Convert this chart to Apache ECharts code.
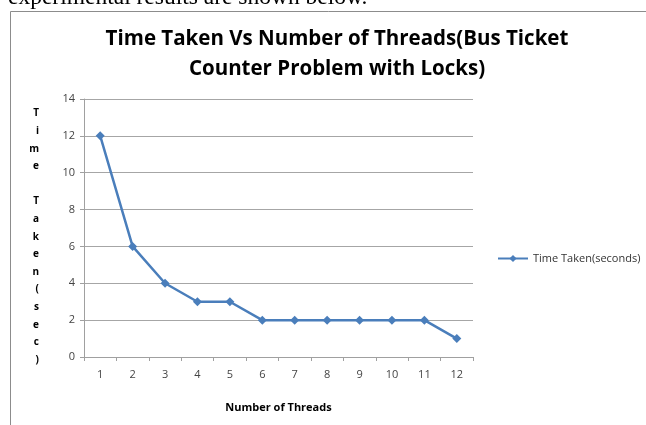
<!DOCTYPE html>
<html>
<head>
<meta charset="utf-8">
<style>html,body{margin:0;padding:0;background:#fff;}#c{width:646px;height:425px;}</style>
<script src="https://cdn.jsdelivr.net/npm/echarts@6/dist/echarts.min.js"></script>
</head>
<body>
<div id="c"></div>
<script>
const categories = ['1','2','3','4','5','6','7','8','9','10','11','12'];
const timeTaken = [12, 6, 4, 3, 3, 2, 2, 2, 2, 2, 2, 1];
const seriesName = 'Time Taken(seconds)';
const titleText = 'Time Taken Vs Number of Threads(Bus Ticket\nCounter Problem with Locks)';
const yName = '\nT\ni\nm\ne\n\nT\na\nk\ne\nn\n(\ns\ne\nc\n)';
const xName = 'Number of Threads';
const captionText = 'experimental results are shown below.';

const chart = echarts.init(document.getElementById('c'), null, {renderer: 'canvas'});
chart.setOption({
  backgroundColor: '#fff',
  animation: false,
  graphic: [
    {type: 'rect', shape: {x: 10.5, y: 11.5, width: 700, height: 500}, style: {fill: 'none', stroke: '#8c8c8c', lineWidth: 1}},
    {type: 'text', x: 8, y: -14, style: {text: captionText, font: '23.5px "Liberation Serif"', fill: '#000'}}
  ],
  title: {
    text: titleText,
    left: 332, top: 19, textAlign: 'center',
    textStyle: {fontFamily: 'Open Sans', fontWeight: 'bold', fontSize: 20.5, color: '#000', lineHeight: 30}
  },
  legend: {
    data: [seriesName],
    left: 492, top: 248,
    itemWidth: 30, itemHeight: 9,
    textStyle: {fontFamily: 'Open Sans', fontSize: 11, color: '#333'}
  },
  grid: {left: 84, right: 173, top: 99, bottom: 68},
  xAxis: {
    type: 'category', data: categories, boundaryGap: true,
    name: xName, nameLocation: 'middle', nameGap: 45,
    nameTextStyle: {fontFamily: 'Open Sans', fontWeight: 'bold', fontSize: 11, color: '#000'},
    axisLine: {lineStyle: {color: '#a0a0a0'}},
    axisTick: {show: true, alignWithLabel: false, length: 4, lineStyle: {color: '#a0a0a0'}},
    axisLabel: {fontFamily: 'Open Sans', fontSize: 11, color: '#444', margin: 12}
  },
  yAxis: {
    type: 'value', min: 0, max: 14, interval: 2,
    name: yName, nameLocation: 'middle', nameGap: 45, nameRotate: 0,
    nameTextStyle: {fontFamily: 'Open Sans', fontWeight: 'bold', fontSize: 10, color: '#000', lineHeight: 17.6},
    axisLine: {show: true, lineStyle: {color: '#a0a0a0'}},
    axisTick: {show: true, length: 4, lineStyle: {color: '#a0a0a0'}},
    axisLabel: {fontFamily: 'Open Sans', fontSize: 11, color: '#444', margin: 9},
    splitLine: {lineStyle: {color: '#a6a6a6'}}
  },
  series: [{
    name: seriesName, type: 'line', data: timeTaken,
    symbol: 'diamond', symbolSize: 9,
    lineStyle: {color: '#4a7ebb', width: 2.5},
    itemStyle: {color: '#4a7ebb'}
  }]
});
</script>
</body>
</html>
